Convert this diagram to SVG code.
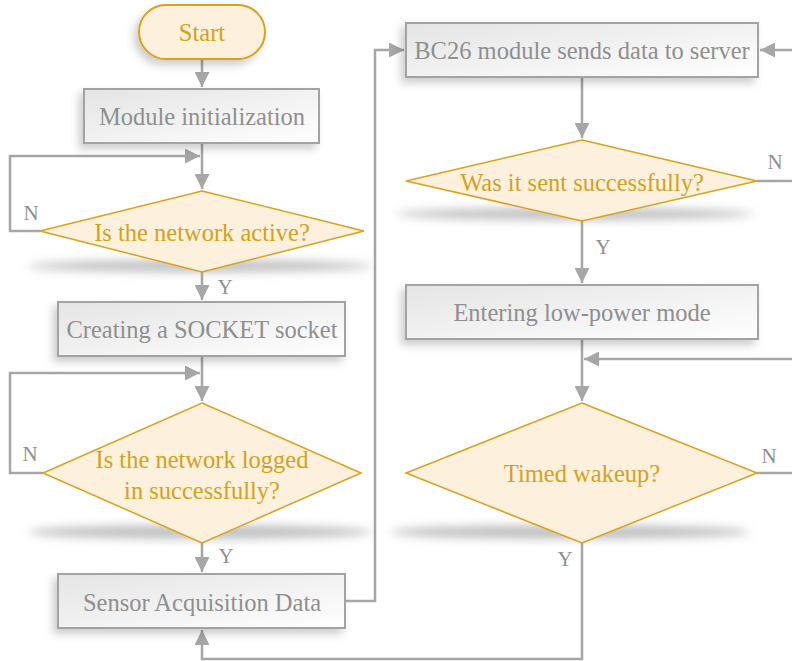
<svg xmlns="http://www.w3.org/2000/svg" width="792" height="661" viewBox="0 0 792 661">
<style>
.box{fill:url(#gBox);stroke:#a3a3a3;stroke-width:2}
.dia{fill:#fdf0dc;stroke:#d8a21c;stroke-width:1.5}
.term{fill:#fdf0dc;stroke:#d8a21c;stroke-width:2}
text{font-family:"Liberation Serif","Times New Roman","DejaVu Serif",serif}
.bt{font-size:24.5px;fill:#8f8f8f;text-anchor:middle;dominant-baseline:central}
.dt{font-size:24.5px;fill:#d3a21d;text-anchor:middle;dominant-baseline:central}
.lb{font-size:21px;fill:#8f8f8f;text-anchor:middle;dominant-baseline:central}
.ln{fill:none;stroke:#a6a6a6;stroke-width:2.5}
.sh{fill:#b0b0b0;opacity:0.8;filter:url(#blur)}
</style>
<defs>
<linearGradient id="gBox" x1="0" y1="0" x2="1" y2="1">
<stop offset="0" stop-color="#e4e4e4"/>
<stop offset="1" stop-color="#ffffff"/>
</linearGradient>
<filter id="blur" x="-20%" y="-200%" width="140%" height="500%"><feGaussianBlur stdDeviation="5"/></filter>
<filter id="ds" x="-10%" y="-20%" width="120%" height="160%"><feDropShadow dx="-4" dy="5" stdDeviation="4" flood-color="#000" flood-opacity="0.2"/></filter>
<marker id="ah" viewBox="0 0 10 10" refX="10" refY="5" markerWidth="6" markerHeight="6" markerUnits="strokeWidth" orient="auto"><path d="M0,0 L10,5 L0,10 z" fill="#a6a6a6"/></marker>
</defs>

<g id="shadows">
<ellipse class="sh" cx="200" cy="266" rx="172" ry="6"/>
<ellipse class="sh" cx="200" cy="532" rx="172" ry="7"/>
<ellipse class="sh" cx="575" cy="214" rx="178" ry="6"/>
<ellipse class="sh" cx="570" cy="532" rx="180" ry="7"/>
</g>

<g id="connectors">
<path class="ln" d="M202,59 V87" marker-end="url(#ah)"/>
<path class="ln" d="M202,143 V189" marker-end="url(#ah)"/>
<path class="ln" d="M40,231 H10 V156 H200" marker-end="url(#ah)"/>
<path class="ln" d="M202,272 V300" marker-end="url(#ah)"/>
<path class="ln" d="M202,356 V401" marker-end="url(#ah)"/>
<path class="ln" d="M43,473 H10 V373 H200" marker-end="url(#ah)"/>
<path class="ln" d="M202,543 V572" marker-end="url(#ah)"/>
<path class="ln" d="M345,601 H375 V50 H404" marker-end="url(#ah)"/>
<path class="ln" d="M792,50 H760" marker-end="url(#ah)"/>
<path class="ln" d="M582,77 V138" marker-end="url(#ah)"/>
<path class="ln" d="M757,181 H792"/>
<path class="ln" d="M582,221 V283" marker-end="url(#ah)"/>
<path class="ln" d="M582,339 V401" marker-end="url(#ah)"/>
<path class="ln" d="M792,359 H584" marker-end="url(#ah)"/>
<path class="ln" d="M757,473 H792"/>
<path class="ln" d="M582,543 V659 H202 V630" marker-end="url(#ah)"/>
<text class="lb" x="31" y="213">N</text>
<text class="lb" x="225" y="287">Y</text>
<text class="lb" x="30" y="454">N</text>
<text class="lb" x="226" y="556">Y</text>
<text class="lb" x="775" y="162">N</text>
<text class="lb" x="603" y="247">Y</text>
<text class="lb" x="769" y="456">N</text>
<text class="lb" x="565" y="559">Y</text>
</g>

<g id="start">
<rect class="term" x="139" y="5" width="126" height="54" rx="27" filter="url(#ds)"/>
<text class="dt" x="202" y="32">Start</text>
</g>
<g id="init">
<rect class="box" x="84" y="89" width="235" height="54" filter="url(#ds)"/>
<text class="bt" x="202" y="116">Module initialization</text>
</g>
<g id="netActive">
<polygon class="dia" points="202,191 364,231 202,272 40,231"/>
<text class="dt" x="202" y="232">Is the network active?</text>
</g>
<g id="socket">
<rect class="box" x="58" y="302" width="287" height="54" filter="url(#ds)"/>
<text class="bt" x="202" y="329">Creating a SOCKET socket</text>
</g>
<g id="netLogged">
<polygon class="dia" points="202,403 361,473 202,543 43,473"/>
<text class="dt" x="202" y="459">Is the network logged</text>
<text class="dt" x="202" y="490">in successfully?</text>
</g>
<g id="sensor">
<rect class="box" x="58" y="574" width="287" height="54" filter="url(#ds)"/>
<text class="bt" x="202" y="602">Sensor Acquisition Data</text>
</g>
<g id="send">
<rect class="box" x="406" y="23" width="352" height="54" filter="url(#ds)"/>
<text class="bt" x="582" y="50">BC26 module sends data to server</text>
</g>
<g id="sentOk">
<polygon class="dia" points="582,140 757,181 582,221 406,181"/>
<text class="dt" x="582" y="182">Was it sent successfully?</text>
</g>
<g id="lowPower">
<rect class="box" x="406" y="285" width="352" height="54" filter="url(#ds)"/>
<text class="bt" x="582" y="312">Entering low-power mode</text>
</g>
<g id="wakeup">
<polygon class="dia" points="582,403 757,473 582,543 406,473"/>
<text class="dt" x="582" y="473">Timed wakeup?</text>
</g>
</svg>
